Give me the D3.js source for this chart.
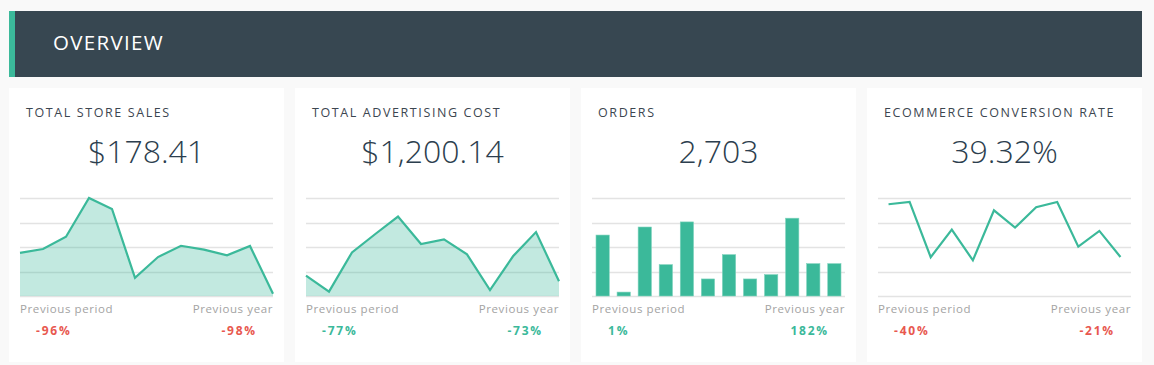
<!DOCTYPE html>
<html>
<head>
<meta charset="utf-8">
<script src="https://cdn.jsdelivr.net/npm/d3@7/dist/d3.min.js"></script>
<style>
  html, body { margin: 0; padding: 0; background: #f9f9f9; }
  svg { display: block; }
</style>
</head>
<body>
<svg id="chart" width="1154" height="365"></svg>
<script>
// ---- data ----
const periods = ["P1","P2","P3","P4","P5","P6","P7","P8","P9","P10","P11","P12"];
const salesValues = [17.6, 19.2, 24.2, 40.0, 35.5, 7.4, 15.9, 20.5, 18.9, 16.6, 20.4, 0.9];
const adCostValues = [8.3, 1.8, 17.8, 25.2, 32.4, 21.2, 23.1, 17.0, 2.4, 16.2, 26.1, 6.0];
const orderValues = [311, 20, 352, 160, 378, 87, 211, 87, 109, 397, 165, 165];
const conversionValues = [46.8, 48.0, 19.8, 33.9, 18.2, 43.7, 34.9, 45.3, 48.0, 25.2, 33.2, 19.9];
const kpiTitles = ["TOTAL STORE SALES", "TOTAL ADVERTISING COST", "ORDERS", "ECOMMERCE CONVERSION RATE"];
const kpiValues = ["$178.41", "$1,200.14", "2,703", "39.32%"];
const prevPeriod = ["-96%", "-77%", "1%", "-40%"];
const prevYear = ["-98%", "-73%", "182%", "-21%"];
const goodChange = [[false, false], [true, true], [true, true], [false, false]];
const yMax = [40, 40, 500, 50];
const chartKinds = ["area", "area", "bar", "line"];
const seriesList = [salesValues, adCostValues, orderValues, conversionValues];

// ---- styles ----
const teal = "#3bb99a";
const red = "#e8584f";
const svg = d3.select("#chart");
const font = "'Open Sans', 'Noto Sans', sans-serif";

// header
svg.append("rect").attr("x", 9).attr("y", 11).attr("width", 1133).attr("height", 66).attr("fill", "#374751");
svg.append("rect").attr("x", 9).attr("y", 11).attr("width", 6).attr("height", 66).attr("fill", teal);
svg.append("text").attr("x", 53).attr("y", 50).text("OVERVIEW")
  .attr("fill", "#ffffff").attr("font-family", font).attr("font-size", 20.5).attr("letter-spacing", 1.3);

const panelX = d3.scaleBand().domain(d3.range(4)).range([9, 1142]).paddingInner(11/286);
const panelTop = 88, panelH = 274;
const chartTop = 198, chartBottom = 296;

for (let i = 0; i < 4; i++) {
  const px = panelX(i), pw = panelX.bandwidth();
  const g = svg.append("g").attr("transform", `translate(${px},0)`);
  g.append("rect").attr("x", 0).attr("y", panelTop).attr("width", pw).attr("height", panelH).attr("fill", "#ffffff");
  g.append("text").attr("x", 17).attr("y", 117).text(kpiTitles[i])
    .attr("fill", "#3c4650").attr("font-family", font).attr("font-size", 12.5).attr("letter-spacing", 1.6);
  g.append("text").attr("x", pw/2).attr("y", 163).attr("text-anchor", "middle").text(kpiValues[i])
    .attr("fill", "#2c3e4e").attr("font-family", font).attr("font-size", 32).attr("font-weight", 300);

  const cx0 = 11, cx1 = pw - 11;
  const y = d3.scaleLinear().domain([0, yMax[i]]).range([chartBottom, chartTop]);
  const vals = seriesList[i];
  const gridTicks = d3.range(0, 5).map(k => k * yMax[i] / 4);

  // gridlines
  g.append("g").selectAll("line").data(gridTicks).join("line")
    .attr("x1", cx0).attr("x2", cx1).attr("y1", d => Math.round(y(d)) + 0.5).attr("y2", d => Math.round(y(d)) + 0.5)
    .attr("stroke", "#e3e3e3").attr("stroke-width", 1.5);

  if (chartKinds[i] === "area") {
    const x = d3.scalePoint().domain(periods).range([cx0, cx1]);
    const area = d3.area().x((d, k) => x(periods[k])).y0(chartBottom).y1(d => y(d));
    const line = d3.line().x((d, k) => x(periods[k])).y(d => y(d));
    g.append("path").datum(vals).attr("d", area).attr("fill", teal).attr("fill-opacity", 0.31);
    g.append("path").datum(vals).attr("d", line).attr("fill", "none").attr("stroke", teal).attr("stroke-width", 2.2);
  } else if (chartKinds[i] === "bar") {
    const x = d3.scaleBand().domain(periods).range([cx0, cx1]).paddingInner(0.37).paddingOuter(0.19);
    g.selectAll("rect.bar").data(vals).join("rect").attr("class", "bar")
      .attr("x", (d, k) => x(periods[k])).attr("width", x.bandwidth())
      .attr("y", d => y(d)).attr("height", d => chartBottom - y(d))
      .attr("fill", teal).attr("stroke", "#7fd3bd").attr("stroke-width", 0.6);
  } else {
    const x = d3.scaleBand().domain(periods).range([cx0, cx1]);
    const line = d3.line().x((d, k) => x(periods[k]) + x.bandwidth()/2).y(d => y(d));
    g.append("path").datum(vals).attr("d", line).attr("fill", "none").attr("stroke", teal).attr("stroke-width", 2.2);
  }

  // footer
  g.append("text").attr("x", cx0).attr("y", 313).text("Previous period")
    .attr("fill", "#a3a3a3").attr("font-family", font).attr("font-size", 11.5).attr("letter-spacing", 0.6);
  g.append("text").attr("x", cx1).attr("y", 313).attr("text-anchor", "end").text("Previous year")
    .attr("fill", "#a3a3a3").attr("font-family", font).attr("font-size", 11.5).attr("letter-spacing", 0.6);
  g.append("text").attr("x", cx0 + 16).attr("y", 335).text(prevPeriod[i])
    .attr("fill", goodChange[i][0] ? teal : red).attr("font-family", font).attr("font-size", 12)
    .attr("font-weight", 700).attr("letter-spacing", 1.8);
  g.append("text").attr("x", cx1 - 16).attr("y", 335).attr("text-anchor", "end").text(prevYear[i])
    .attr("fill", goodChange[i][1] ? teal : red).attr("font-family", font).attr("font-size", 12)
    .attr("font-weight", 700).attr("letter-spacing", 1.8);
}
</script>
</body>
</html>
